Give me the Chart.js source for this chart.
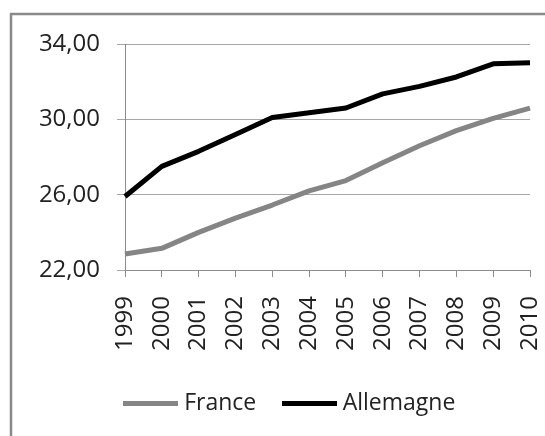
<!DOCTYPE html>
<html>
<head>
<meta charset="utf-8">
<script src="https://cdn.jsdelivr.net/npm/chart.js@4/dist/chart.umd.min.js"></script>
<style>
  html, body { margin: 0; padding: 0; background: #ffffff; }
  #wrap { position: relative; width: 545px; height: 436px; }
</style>
</head>
<body>
<div id="wrap"><canvas id="c" width="545" height="436"></canvas></div>
<script>
// Années
const years = ['1999', '2000', '2001', '2002', '2003', '2004', '2005', '2006', '2007', '2008', '2009', '2010'];
// Séries
const france = [22.85, 23.15, 24.0, 24.75, 25.45, 26.2, 26.75, 27.7, 28.6, 29.4, 30.05, 30.6];
const allemagne = [25.9, 27.5, 28.3, 29.2, 30.1, 30.35, 30.6, 31.35, 31.75, 32.25, 32.95, 33.0];
// Graduations de l'axe vertical
const yTicks = [22, 26, 30, 34];

const textColor = '#222222';
const axisColor = '#8c8c8c';
const gridColor = '#a6a6a6';
const franceColor = '#858585';
const allemagneColor = '#000000';
const tickFont = { family: 'Open Sans', size: 24 };
const legendFont = { family: 'Open Sans', size: 23 };

// Trait de légende (ligne épaisse)
function legendSwatch(color) {
  const c = document.createElement('canvas');
  c.width = 55;
  c.height = 5;
  const g = c.getContext('2d');
  g.fillStyle = color;
  g.fillRect(0, 0, c.width, c.height);
  return c;
}

// Cadre gris autour du graphique
const framePlugin = {
  id: 'frame',
  beforeDraw(chart) {
    const ctx = chart.ctx;
    ctx.save();
    ctx.strokeStyle = '#8a8a8a';
    ctx.lineWidth = 2.5;
    ctx.beginPath();
    ctx.moveTo(11, chart.height);
    ctx.lineTo(11, 14);
    ctx.lineTo(chart.width, 14);
    ctx.stroke();
    ctx.restore();
  }
};

new Chart(document.getElementById('c'), {
  type: 'line',
  data: {
    labels: years,
    datasets: [
      {
        label: 'France',
        data: france,
        borderColor: franceColor,
        backgroundColor: franceColor,
        borderWidth: 5,
        pointRadius: 0,
        pointStyle: legendSwatch(franceColor),
        tension: 0,
        borderJoinStyle: 'round'
      },
      {
        label: 'Allemagne',
        data: allemagne,
        borderColor: allemagneColor,
        backgroundColor: allemagneColor,
        borderWidth: 5,
        pointRadius: 0,
        pointStyle: legendSwatch(allemagneColor),
        tension: 0,
        borderJoinStyle: 'round'
      }
    ]
  },
  options: {
    responsive: false,
    animation: false,
    layout: { padding: { left: 39, right: 0, top: 44, bottom: 11.5 } },
    plugins: {
      legend: {
        position: 'bottom',
        labels: {
          font: legendFont,
          color: textColor,
          usePointStyle: true,
          pointStyleWidth: 44,
          padding: 31
        }
      },
      tooltip: { enabled: false }
    },
    scales: {
      x: {
        offset: false,
        grid: {
          drawOnChartArea: false,
          drawTicks: true,
          tickLength: 7,
          color: axisColor
        },
        border: { color: axisColor, width: 1 },
        ticks: {
          font: tickFont,
          color: textColor,
          minRotation: 90,
          maxRotation: 90,
          autoSkip: false,
          padding: 19
        },
        afterFit(scale) {
          scale.height = 90.5;
          scale.paddingLeft = 0;
          scale.paddingRight = 15;
        }
      },
      y: {
        min: yTicks[0],
        max: yTicks[yTicks.length - 1],
        afterBuildTicks(scale) { scale.ticks = yTicks.map(v => ({ value: v })); },
        grid: {
          color: gridColor,
          tickLength: 8,
          drawTicks: true
        },
        border: { color: axisColor, width: 1 },
        ticks: {
          font: tickFont,
          color: textColor,
          padding: 17,
          callback: v => v.toFixed(2).replace('.', ',')
        },
        afterFit(scale) { scale.width = 86; }
      }
    }
  },
  plugins: [framePlugin]
});
</script>
</body>
</html>
